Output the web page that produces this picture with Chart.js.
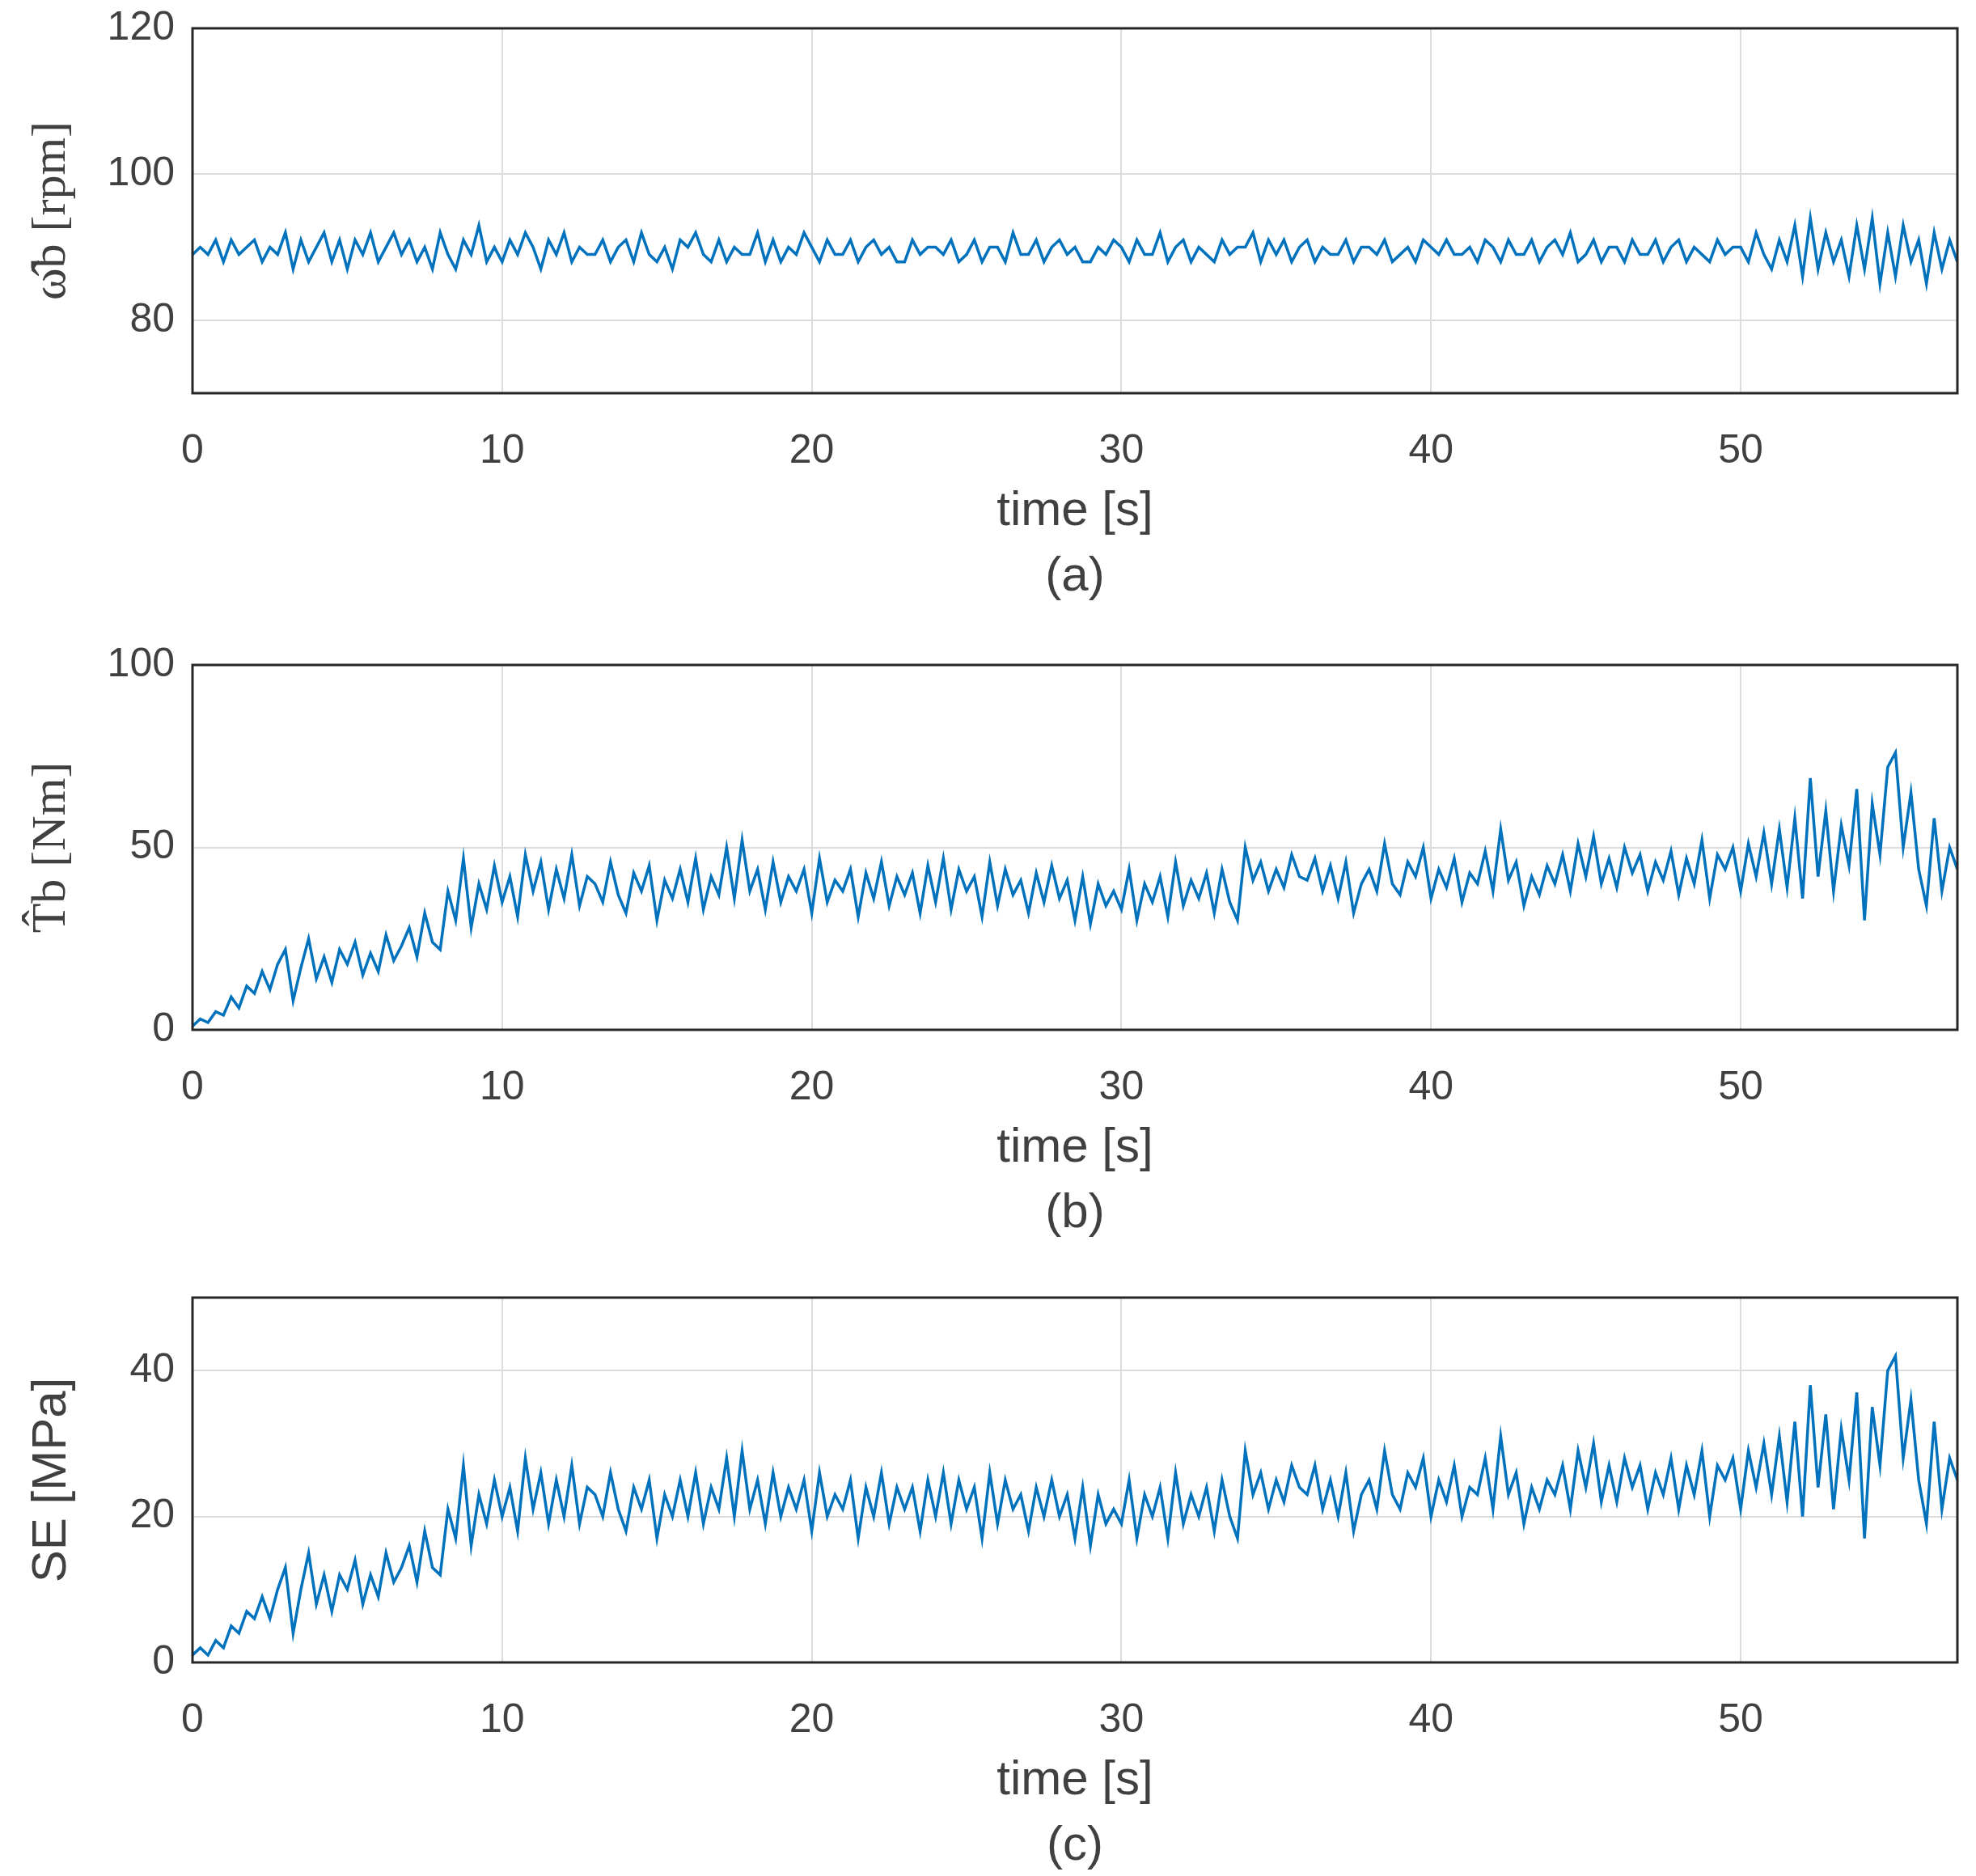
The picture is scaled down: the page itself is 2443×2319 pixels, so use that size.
<!DOCTYPE html>
<html><head><meta charset="utf-8">
<script src="https://cdn.jsdelivr.net/npm/chart.js@4"></script>
<style>
body{margin:0;background:#fff;width:2443px;height:2319px;position:relative;overflow:hidden}
.p{position:absolute;left:0;width:2443px}
</style></head><body>
<div class="p" style="top:-17px;height:771px"><canvas id="ca"></canvas></div>
<div class="p" style="top:770px;height:771px"><canvas id="cb"></canvas></div>
<div class="p" style="top:1552px;height:771px"><canvas id="cc"></canvas></div>
<script>
// time step 0.25 s, 0 .. 57 s
const timeStep = 0.25;
const omegaB = [
89,90,89,91, 88,91,89,90, 91,88,90,89, 92,87,91,88, 90,92,88,91, 87,91,89,92, 88,90,92,89, 91,88,90,87,
92,89,87,91, 89,93,88,90, 88,91,89,92, 90,87,91,89, 92,88,90,89, 89,91,88,90, 91,88,92,89, 88,90,87,91,
90,92,89,88, 91,88,90,89, 89,92,88,91, 88,90,89,92, 90,88,91,89, 89,91,88,90, 91,89,90,88, 88,91,89,90,
90,89,91,88, 89,91,88,90, 90,88,92,89, 89,91,88,90, 91,89,90,88, 88,90,89,91, 90,88,91,89, 89,92,88,90,
91,88,90,89, 88,91,89,90, 90,92,88,91, 89,91,88,90, 91,88,90,89, 89,91,88,90, 90,89,91,88, 89,90,88,91,
90,89,91,89, 89,90,88,91, 90,88,91,89, 89,91,88,90, 91,89,92,88, 89,91,88,90, 90,88,91,89, 89,91,88,90,
91,88,90,89, 88,91,89,90, 90,88,92,89, 87,91,88,93, 86,94,87,92, 88,91,86,93, 87,94,85,92, 86,93,88,91,
85,92,87,91, 88];
const torqueB = [
1,3,2,5, 4,9,6,12, 10,16,11,18, 22,8,17,25, 14,20,13,22, 18,24,15,21, 16,26,19,23, 28,20,32,24,
22,38,30,47, 28,40,33,45, 35,42,31,48, 38,46,33,44, 36,48,34,42, 40,35,46,37, 32,43,38,45, 30,41,36,44,
35,47,33,42, 37,50,36,52, 38,44,33,46, 35,42,38,44, 32,47,35,41, 38,44,31,43, 36,46,34,42, 37,43,32,45,
35,47,33,44, 38,42,31,46, 34,44,37,41, 32,43,35,45, 36,41,30,42, 29,40,34,38, 33,44,30,40, 35,42,31,46,
34,41,36,43, 32,44,35,30, 50,41,46,38, 44,39,48,42, 41,47,38,45, 36,46,32,40, 44,38,51,40, 37,46,42,50,
36,44,39,47, 35,43,40,49, 38,55,41,46, 34,42,37,45, 40,48,38,51, 42,53,40,47, 39,50,43,48, 38,46,41,49,
37,47,40,52, 36,48,44,50, 38,51,42,54, 40,55,39,58, 36,69,42,60, 38,56,45,66, 30,62,48,72, 76,50,65,44,
34,58,38,50, 44];
const stressSE = [
1,2,1,3, 2,5,4,7, 6,9,6,10, 13,4,10,15, 8,12,7,12, 10,14,8,12, 9,15,11,13, 16,11,18,13,
12,21,17,27, 16,23,19,25, 20,24,18,28, 21,26,19,25, 20,27,19,24, 23,20,26,21, 18,24,21,25, 17,23,20,25,
20,26,19,24, 21,28,20,29, 21,25,19,26, 20,24,21,25, 18,26,20,23, 21,25,17,24, 20,26,19,24, 21,24,18,25,
20,26,19,25, 21,24,17,26, 19,25,21,23, 18,24,20,25, 20,23,17,24, 16,23,19,21, 19,25,17,23, 20,24,17,26,
19,23,20,24, 18,25,20,17, 29,23,26,21, 25,22,27,24, 23,27,21,25, 20,26,18,23, 25,21,29,23, 21,26,24,28,
20,25,22,27, 20,24,23,28, 21,31,23,26, 19,24,21,25, 23,27,21,29, 24,30,22,27, 22,28,24,27, 21,26,23,28,
21,27,23,29, 20,27,25,28, 21,29,24,30, 23,31,22,33, 20,38,24,34, 21,32,25,37, 17,35,27,40, 42,28,36,25,
19,33,21,28, 25];
const xTicks = [0,10,20,30,40,50];
const yTicksA = [80,100,120];
const yTicksB = [0,50,100];
const yTicksC = [0,20,40];

const txt = '#404040';
const boxPlugin = {
  id:'box',
  afterDraw(c){
    const a=c.chartArea, g=c.ctx;
    g.save(); g.strokeStyle='#262626'; g.lineWidth=3;
    g.strokeRect(a.left,a.top,a.right-a.left,a.bottom-a.top); g.restore();
  }
};

function makeChart(id, values, yMin, yMax, yTicks, yTitle, yFont, sub){
  const pts = values.map((v,i)=>({x:i*timeStep, y:v}));
  new Chart(document.getElementById(id), {
    type:'line',
    data:{datasets:[{data:pts, borderColor:'#0072BD', borderWidth:3.5, pointRadius:0, tension:0}]},
    plugins:[boxPlugin],
    options:{
      responsive:true, maintainAspectRatio:false, animation:false, devicePixelRatio:1,
      layout:{padding:{top:0,right:23,bottom:0,left:0}},
      plugins:{legend:{display:false}, tooltip:{enabled:false}},
      scales:{
        x:{type:'linear', min:0, max:57,
          afterBuildTicks:s=>{s.ticks=xTicks.map(v=>({value:v}));},
          afterFit:s=>{s.height=268;},
          grid:{color:'#dcdcdc', lineWidth:2, drawTicks:false},
          border:{display:false},
          ticks:{padding:42, color:txt, font:{family:'Liberation Sans, Arial', size:50}},
          title:{display:true, text:['time [s]', sub], color:txt, padding:{top:0,bottom:0},
            font:{family:'Liberation Sans, Arial', size:60, lineHeight:1.35}}},
        y:{min:yMin, max:yMax,
          afterBuildTicks:s=>{s.ticks=yTicks.map(v=>({value:v}));},
          afterFit:s=>{s.width=238;},
          grid:{color:'#dcdcdc', lineWidth:2, drawTicks:false},
          border:{display:false},
          ticks:{padding:22, color:txt, font:{family:'Liberation Sans, Arial', size:50}},
          title:{display:true, text:yTitle, color:txt, padding:{top:28,bottom:0},
            font:{family:yFont, size:60}}}
      }
    }
  });
}
makeChart('ca', omegaB, 70, 120, yTicksA, 'ω̂b [rpm]', 'Liberation Serif, serif', '(a)');
makeChart('cb', torqueB, 0, 100, yTicksB, 'T̂b [Nm]', 'Liberation Serif, serif', '(b)');
makeChart('cc', stressSE, 0, 50, yTicksC, 'SE [MPa]', 'Liberation Sans, Arial', '(c)');
</script></body></html>
